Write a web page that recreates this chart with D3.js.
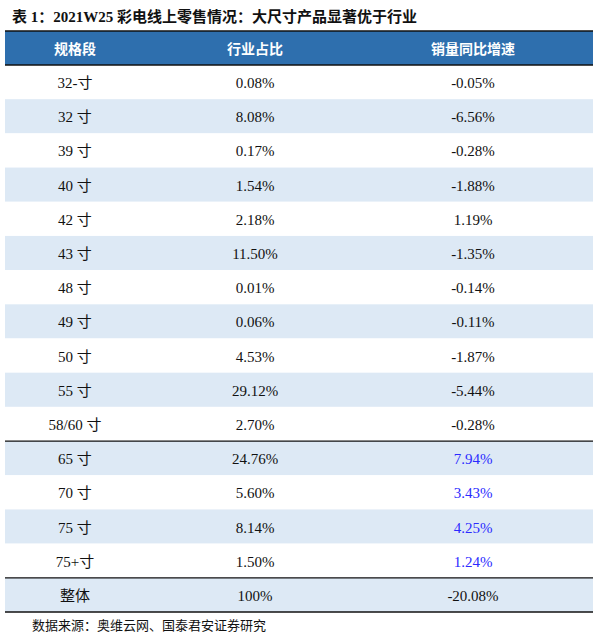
<!DOCTYPE html>
<html><head><meta charset="utf-8">
<script src="https://cdn.jsdelivr.net/npm/d3@7"></script>
<style>body{margin:0;background:#fff}</style>
</head><body><svg id="chart" width="595" height="638"></svg>
<script>
const title = "表 1：2021W25 彩电线上零售情况：大尺寸产品显著优于行业"
const headers = ["规格段", "行业占比", "销量同比增速"]
const sizes = ["32-寸","32 寸","39 寸","40 寸","42 寸","43 寸","48 寸","49 寸","50 寸","55 寸","58/60 寸","65 寸","70 寸","75 寸","75+寸","整体"]
const shares = ["0.08%","8.08%","0.17%","1.54%","2.18%","11.50%","0.01%","0.06%","4.53%","29.12%","2.70%","24.76%","5.60%","8.14%","1.50%","100%"]
const growth = ["-0.05%","-6.56%","-0.28%","-1.88%","1.19%","-1.35%","-0.14%","-0.11%","-1.87%","-5.44%","-0.28%","7.94%","3.43%","4.25%","1.24%","-20.08%"]
const source = "数据来源：奥维云网、国泰君安证券研究"

const font = "'Liberation Serif','Noto Sans CJK SC',serif"
const svg = d3.select("#chart")
const left = 5, right = 593, headTop = 31, headBottom = 65, bottom = 612

const y = d3.scaleBand().domain(d3.range(sizes.length)).range([headBottom, bottom])
const colX = [75, 255, 473]

svg.append("text").attr("x", 12).attr("y", 22).attr("font-family", font)
  .attr("font-weight", "bold").attr("font-size", 15).attr("fill", "#111").text(title)

svg.append("rect").attr("x", left).attr("y", headTop).attr("width", right - left)
  .attr("height", headBottom - headTop).attr("fill", "#2e6fae")
headers.forEach((h, i) => {
  svg.append("text").attr("x", colX[i]).attr("y", (headTop + headBottom) / 2)
    .attr("text-anchor", "middle").attr("dominant-baseline", "central")
    .attr("font-family", "'Noto Sans CJK SC'").attr("font-weight", "bold")
    .attr("font-size", 14).attr("fill", "#fff").text(h)
})

const rows = svg.selectAll("g.row").data(sizes).join("g").attr("class", "row")
  .attr("transform", (d, i) => `translate(0,${y(i)})`)
rows.append("rect").attr("x", left).attr("width", right - left).attr("height", y.bandwidth())
  .attr("fill", (d, i) => i % 2 ? "#dde9f5" : "#fff")
rows.each(function(d, i) {
  const g = d3.select(this)
  const vals = [sizes[i], shares[i], growth[i]]
  vals.forEach((v, c) => {
    g.append("text").attr("x", colX[c]).attr("y", y.bandwidth() / 2 + 1)
      .attr("text-anchor", "middle").attr("dominant-baseline", "central")
      .attr("font-family", font).attr("font-size", 15)
      .attr("fill", c == 2 && i >= 11 && i <= 14 ? "#2b2bff" : "#111").text(v)
  })
})

// horizontal rules
;[headTop, headBottom, y(11), y(15), bottom].forEach(v => {
  svg.append("line").attr("x1", left).attr("x2", right).attr("y1", v).attr("y2", v)
    .attr("stroke", "#111").attr("stroke-width", 1.3)
})

svg.append("text").attr("x", 32).attr("y", 630).attr("font-family", font)
  .attr("font-size", 13).attr("fill", "#111").text(source)
</script></body></html>
